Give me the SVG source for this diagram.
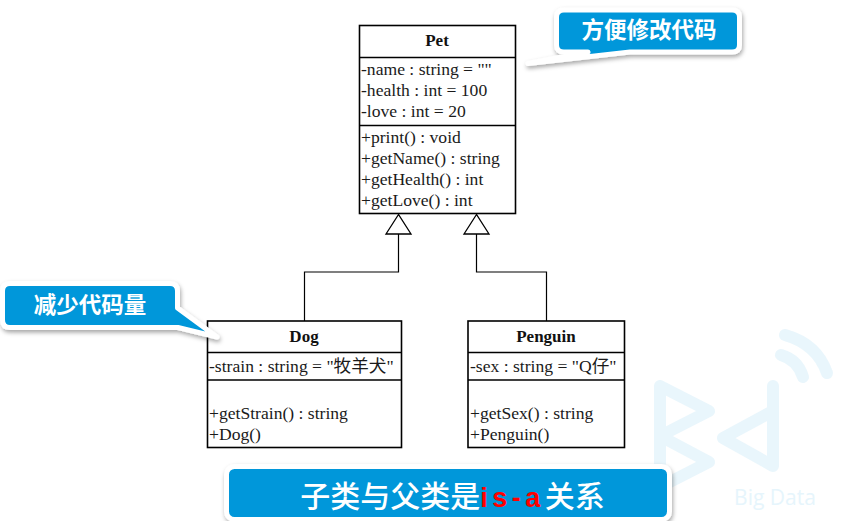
<svg xmlns="http://www.w3.org/2000/svg" width="841" height="521" viewBox="0 0 841 521">
<style>
.box{fill:#fff;stroke:#000;stroke-width:1.6}
.div{stroke:#000;stroke-width:1.6;fill:none}
.conn{stroke:#000;stroke-width:1.2;fill:none}
.tri{fill:#fff;stroke:#000;stroke-width:1.3}
.t{font-family:"Liberation Serif","Noto Sans CJK SC",serif;font-size:17.6px;fill:#1a1a1a}
.h{font-family:"Liberation Serif",serif;font-size:17px;font-weight:bold;fill:#111;text-anchor:middle}
.co{fill:#0097da;stroke:#fff;stroke-width:5;stroke-linejoin:round;filter:url(#sh)}
.ct{font-family:"Noto Sans CJK SC",sans-serif;font-weight:700;fill:#fff;text-anchor:middle}
.wm{fill:none;stroke:#d3eefa;stroke-width:12;stroke-linecap:round;stroke-linejoin:round;opacity:.5}
</style>
<defs>
<filter id="sh" x="-10%" y="-20%" width="120%" height="150%">
<feDropShadow dx="1" dy="2.5" stdDeviation="2" flood-color="#000" flood-opacity=".35"/>
</filter>
</defs>
<rect width="841" height="521" fill="#fff"/>
<g id="watermark">
<path class="wm" d="M660 386V480M660 386L709 411L660 436L709 462L660 487"/>
<path class="wm" d="M773 386V466L723 438L773 411"/>
<path class="wm" d="M781 355Q798 360 803 377M785 335Q817 344 827 373"/>
<text x="775" y="505" font-family="Open Sans,sans-serif" font-size="21" fill="#e6f5fc" text-anchor="middle">Big Data</text>
</g>
<g id="connectors">
<path class="conn" d="M398.500 234V272H304.500V321"/>
<path class="conn" d="M476.500 234V272H546.500V321"/>
<path class="tri" d="M398.500 214.500L386 234H411Z"/>
<path class="tri" d="M476.500 214.500L464 234H489Z"/>
</g>
<g id="pet">
<rect class="box" x="359.500" y="25.500" width="156" height="188"/>
<path class="div" d="M359.500 57.500H515.500M359.500 125.500H515.500"/>
<text class="h" x="437" y="46">Pet</text>
<text class="t" x="361" y="75">-name : string = ""</text>
<text class="t" x="361" y="96">-health : int = 100</text>
<text class="t" x="361" y="117">-love : int = 20</text>
<text class="t" x="361" y="143">+print() : void</text>
<text class="t" x="361" y="164">+getName() : string</text>
<text class="t" x="361" y="185">+getHealth() : int</text>
<text class="t" x="361" y="206">+getLove() : int</text>
</g>
<g id="dog">
<rect class="box" x="207.500" y="321" width="194" height="126.500"/>
<path class="div" d="M207.500 352.500H401.500M207.500 380H401.500"/>
<text class="h" x="304" y="342">Dog</text>
<text class="t" x="209" y="372">-strain : string = "牧羊犬"</text>
<text class="t" x="209" y="419">+getStrain() : string</text>
<text class="t" x="209" y="440">+Dog()</text>
</g>
<g id="penguin">
<rect class="box" x="468" y="321" width="156.500" height="126.500"/>
<path class="div" d="M468 352.500H624.500M468 380H624.500"/>
<text class="h" x="546" y="342">Penguin</text>
<text class="t" x="470" y="372">-sex : string = "Q仔"</text>
<text class="t" x="470" y="419">+getSex() : string</text>
<text class="t" x="470" y="440">+Penguin()</text>
</g>
<g id="callout-top">
<path class="co" d="M564 10H732Q739.500 10 739.500 17V45Q739.500 52 732 52H630L528 63.500L588 52H564Q556.500 52 556.500 45V17Q556.500 10 564 10Z"/>
<text class="ct" x="649" y="38" font-size="22.500">方便修改代码</text>
</g>
<g id="callout-left">
<path class="co" d="M10 283.500H170Q177.500 283.500 177.500 291V308L217 337L178 327.500H10Q2.500 327.500 2.500 320V291Q2.500 283.500 10 283.500Z"/>
<text class="ct" x="90" y="313" font-size="22.500">减少代码量</text>
</g>
<g id="callout-bottom">
<rect class="co" x="226.500" y="466.500" width="443" height="53" rx="8"/>
<text class="ct" x="452.500" y="507" font-size="30" style="font-weight:500">子类与父类是<tspan fill="#ff0000" font-family="Liberation Sans,sans-serif" style="font-weight:700" font-size="27" letter-spacing="4.500">is-a</tspan>关系</text>
</g>
</svg>
